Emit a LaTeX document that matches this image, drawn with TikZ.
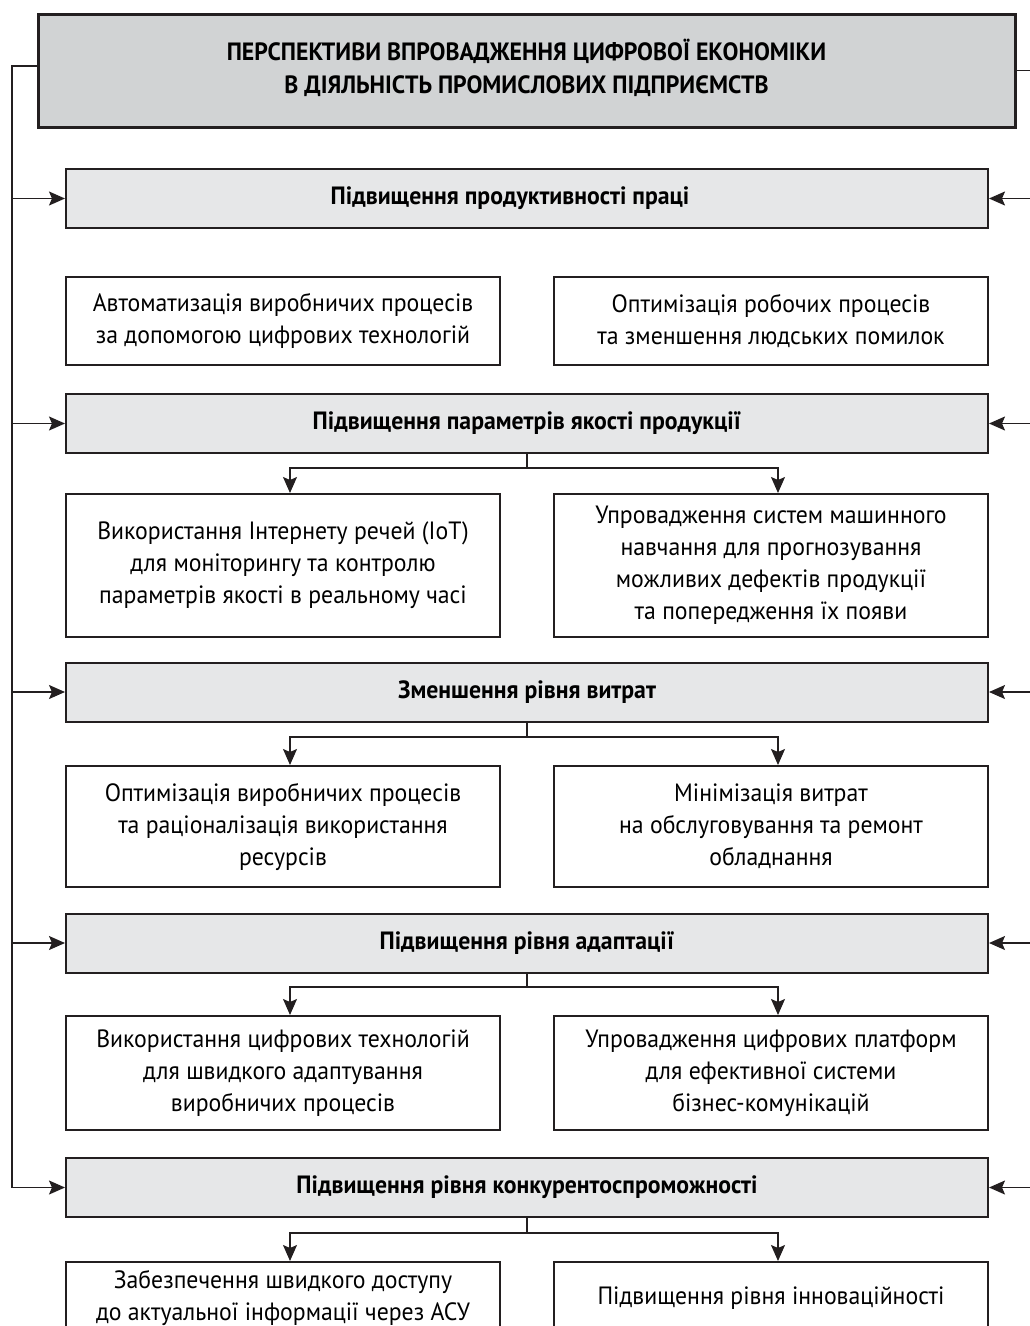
\documentclass[tikz,border=0pt]{standalone}
\usepackage{fontspec}
\setmainfont{PT Sans}[FakeStretch=0.95]
\usetikzlibrary{arrows.meta,calc}
\definecolor{ink}{RGB}{35,31,32}
\definecolor{hdrgray}{RGB}{209,211,212}
\definecolor{catgray}{RGB}{230,231,232}
\tikzset{
  hdrbox/.style={draw=ink,line width=3pt,fill=hdrgray,minimum width=977pt,minimum height=113pt,align=center,inner sep=0pt,
     font=\fontsize{25}{33}\selectfont\bfseries},
  catbox/.style={draw=ink,line width=2pt,fill=catgray,minimum width=922pt,minimum height=59pt,align=center,inner sep=0pt,
     font=\fontsize{25}{30}\selectfont\bfseries},
  subbox/.style={draw=ink,line width=2pt,fill=white,minimum width=434pt,align=center,inner sep=0pt,
     font=\fontsize{25}{32}\selectfont},
  conn/.style={draw=ink,line width=1.5pt},
  arr/.style={conn,-{Stealth[length=16pt,width=14pt,inset=3pt]}},
}
\begin{document}
\begin{tikzpicture}[x=1pt,y=-1pt]
\useasboundingbox (0,0) rectangle (1030,1326);
\clip (0,0) rectangle (1030,1326);
% header
\node[hdrbox] (hdr) at (526.5,70.5) {\raisebox{8pt}{ПЕРСПЕКТИВИ ВПРОВАДЖЕННЯ ЦИФРОВОЇ ЕКОНОМІКИ}\\\raisebox{8pt}{В ДІЯЛЬНІСТЬ ПРОМИСЛОВИХ ПІДПРИЄМСТВ}};
% categories
\node[catbox] (c1) at (527,198.5) {Підвищення продуктивності праці\hspace*{34pt}};
\node[catbox] (c2) at (527,423.5) {Підвищення параметрів якості продукції};
\node[catbox] (c3) at (527,692) {Зменшення рівня витрат};
\node[catbox] (c4) at (527,943) {Підвищення рівня адаптації};
\node[catbox] (c5) at (527,1187.5) {Підвищення рівня конкурентоспроможності};
% sub boxes
\node[subbox,minimum height=88pt] (s1l) at (283,321) {Автоматизація виробничих процесів\\за допомогою цифрових технологій};
\node[subbox,minimum height=88pt] (s1r) at (771,321) {Оптимізація робочих процесів\\та зменшення людських помилок};
\node[subbox,minimum height=143pt] (s2l) at (283,565.5) {Використання Інтернету речей (IoT)\\для моніторингу та контролю\\параметрів якості в реальному часі};
\node[subbox,minimum height=143pt] (s2r) at (771,565.5) {Упровадження систем машинного\\навчання для прогнозування\\можливих дефектів продукції\\та попередження їх появи};
\node[subbox,minimum height=121pt] (s3l) at (283,826.5) {Оптимізація виробничих процесів\\та раціоналізація використання\\ресурсів};
\node[subbox,minimum height=121pt] (s3r) at (771,826.5) {Мінімізація витрат\\на обслуговування та ремонт\\обладнання};
\node[subbox,minimum height=114pt] (s4l) at (283,1073) {Використання цифрових технологій\\для швидкого адаптування\\виробничих процесів};
\node[subbox,minimum height=114pt] (s4r) at (771,1073) {Упровадження цифрових платформ\\для ефективної системи\\бізнес-комунікацій};
\node[subbox,minimum height=72pt] (s5l) at (283,1298) {Забезпечення швидкого доступу\\до актуальної інформації через АСУ};
\node[subbox,minimum height=72pt] (s5r) at (771,1298) {Підвищення рівня інноваційності};
% buses
\coordinate (busL) at (12,1187.5);
\coordinate (busR) at (1034,1187.5);
\draw[conn] ([yshift=4.5pt]hdr.west) -| (busL);
\draw[conn] (hdr.east) -| (busR);
\foreach \c in {c1,c2,c3,c4,c5}{
  \draw[arr] (\c.west -| busL) -- (\c.west);
  \draw[arr] (\c.east -| busR) -- (\c.east);
}
% branches
\coordinate (b2) at (527,468);
\coordinate (b3) at (527,737);
\coordinate (b4) at (527,987);
\coordinate (b5) at (527,1233);
\foreach \i in {2,3,4,5}{
  \draw[arr] (c\i.south) -- (b\i) -| ([xshift=7pt]s\i l.north);
  \draw[arr] (b\i) -| ([xshift=7pt]s\i r.north);
}
\end{tikzpicture}
\end{document}
